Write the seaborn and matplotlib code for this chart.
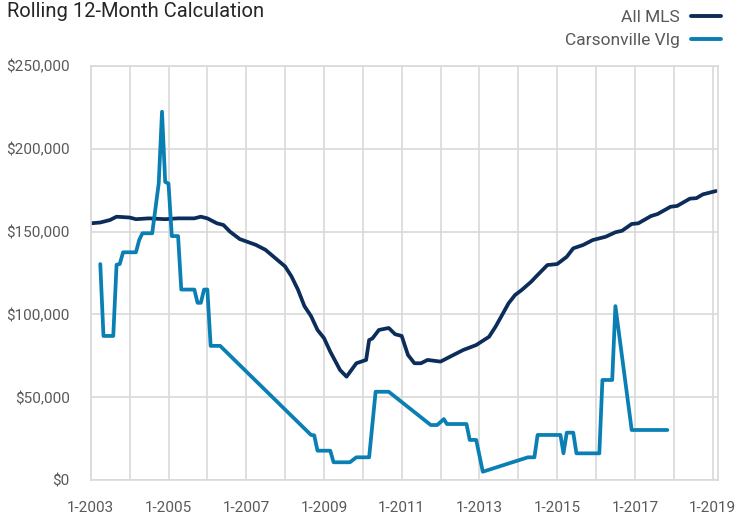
import pandas as pd
import numpy as np
import matplotlib.pyplot as plt
import matplotlib.dates as mdates
import matplotlib.ticker as mticker
import seaborn as sns

# rolling 12-month values
mls_dates = ['2003-01', '2003-04', '2003-07', '2003-09', '2004-01', '2004-03', '2004-07', '2004-12',
             '2005-04', '2005-09', '2005-11', '2006-01', '2006-04', '2006-06', '2006-08', '2006-11',
             '2007-04', '2007-07', '2007-10', '2008-01', '2008-03', '2008-05', '2008-07', '2008-09',
             '2008-11', '2009-01', '2009-03', '2009-06', '2009-08', '2009-11', '2010-02', '2010-03',
             '2010-04', '2010-06', '2010-09', '2010-11', '2011-01', '2011-03', '2011-05', '2011-07',
             '2011-09', '2012-01', '2012-05', '2012-08', '2012-12', '2013-04', '2013-06', '2013-08',
             '2013-10', '2013-12', '2014-02', '2014-05', '2014-07', '2014-10', '2015-01', '2015-04',
             '2015-06', '2015-09', '2015-12', '2016-04', '2016-07', '2016-09', '2016-12', '2017-02',
             '2017-06', '2017-08', '2017-12', '2018-02', '2018-06', '2018-08', '2018-10', '2019-02']
mls_values = [155000, 155500, 157000, 159000, 158500, 157500, 158000, 157500,
              158000, 158000, 159000, 158000, 155000, 154000, 150000, 145500,
              142000, 139000, 134000, 129000, 123000, 115000, 105000, 99000,
              90600, 85700, 77500, 66400, 62400, 70500, 72500, 84500,
              85500, 90600, 91800, 88000, 87000, 75500, 70500, 70500,
              72500, 71500, 75500, 78500, 81500, 86500, 92600, 99600,
              106700, 111700, 114700, 119700, 123800, 129800, 130400, 134800,
              139900, 141900, 144900, 146900, 149600, 150500, 154600, 155000,
              159400, 160600, 165000, 165500, 169900, 170200, 172500, 174500]

cv_dates = ['2003-04', '2003-05', '2003-08', '2003-09', '2003-10', '2003-11', '2004-03', '2004-04',
            '2004-05', '2004-08', '2004-10', '2004-11', '2004-12', '2005-01', '2005-02', '2005-04',
            '2005-05', '2005-09', '2005-10', '2005-11', '2005-12', '2006-01', '2006-02', '2006-05',
            '2008-09', '2008-10', '2008-11', '2009-03', '2009-04', '2009-09', '2009-11', '2010-03',
            '2010-05', '2010-09', '2011-10', '2011-12', '2012-02', '2012-03', '2012-09', '2012-10',
            '2012-12', '2013-02', '2014-04', '2014-06', '2014-07', '2015-02', '2015-03', '2015-04',
            '2015-06', '2015-07', '2016-02', '2016-03', '2016-06', '2016-07', '2016-12', '2017-11']
cv_values = [130400, 87000, 87000, 130000, 130400, 137500, 137500, 145000,
             149000, 149000, 179000, 222400, 180000, 179000, 147300, 147300,
             115000, 115000, 107000, 107000, 115000, 115000, 81000, 81000,
             27200, 27000, 17700, 17700, 10700, 10700, 13700, 13700,
             53300, 53300, 33200, 33200, 36800, 33800, 33800, 24200,
             24200, 5000, 13700, 13700, 27200, 27200, 16100, 28600,
             28600, 16100, 16100, 60400, 60400, 105000, 30200, 30200]

navy = '#0c2c5a'
teal = '#0a7fb3'
grid_c = '#d9d9d9'
text_c = '#595959'

sns.set_style('white')
plt.rcParams['font.family'] = ['Roboto', 'DejaVu Sans']

df_mls = pd.DataFrame({'date': pd.to_datetime(mls_dates), 'price': mls_values})
df_cv = pd.DataFrame({'date': pd.to_datetime(cv_dates), 'price': cv_values})

fig = plt.figure(figsize=(7.38, 5.15), dpi=100)
ax = fig.add_axes([90.7 / 738, 35 / 515, 627.3 / 738, 414 / 515])

sns.lineplot(data=df_mls, x='date', y='price', color=navy, lw=2.7, ax=ax, label='All MLS')
sns.lineplot(data=df_cv, x='date', y='price', color=teal, lw=2.7, ax=ax, label='Carsonville Vlg')

ax.set_xlim(pd.Timestamp('2003-01-01'), pd.Timestamp('2019-02-20'))
ax.set_ylim(0, 250000)
ax.set_xlabel('')
ax.set_ylabel('')

ax.xaxis.set_major_locator(mdates.YearLocator(1))


def year_label(v, pos):
    yr = mdates.num2date(v).year
    return '1-%d' % yr if (yr - 2003) % 2 == 0 else ''


ax.xaxis.set_major_formatter(mticker.FuncFormatter(year_label))
ax.yaxis.set_major_locator(mticker.MultipleLocator(50000))
ax.yaxis.set_major_formatter(mticker.FuncFormatter(lambda v, p: '${:,.0f}'.format(v)))

ax.grid(True, color=grid_c, lw=1.2)
ax.set_axisbelow(True)
for s in ax.spines.values():
    s.set_color(grid_c)
    s.set_linewidth(1.2)

ax.tick_params(axis='y', length=5, width=1.2, color=grid_c, pad=10, labelsize=11, labelcolor=text_c)
ax.tick_params(axis='x', length=5, width=1.2, color=grid_c, pad=10, labelsize=11, labelcolor=text_c)

fig.text(7 / 738, 1 - 2 / 515, 'Rolling 12-Month Calculation', fontsize=14.5, color='#262626',
         ha='left', va='top')

leg = ax.legend(loc='upper right', bbox_to_anchor=(721 / 738, 1 - 10 / 515),
                bbox_transform=fig.transFigure, frameon=False, markerfirst=False,
                fontsize=12.5, handlelength=1.75, handletextpad=0.6, labelspacing=0.42,
                borderpad=0, borderaxespad=0)
for t in leg.get_texts():
    t.set_color(text_c)
for h in leg.get_lines():
    h.set_linewidth(2.8)

plt.savefig('out.png', dpi=100)
plt.close()
